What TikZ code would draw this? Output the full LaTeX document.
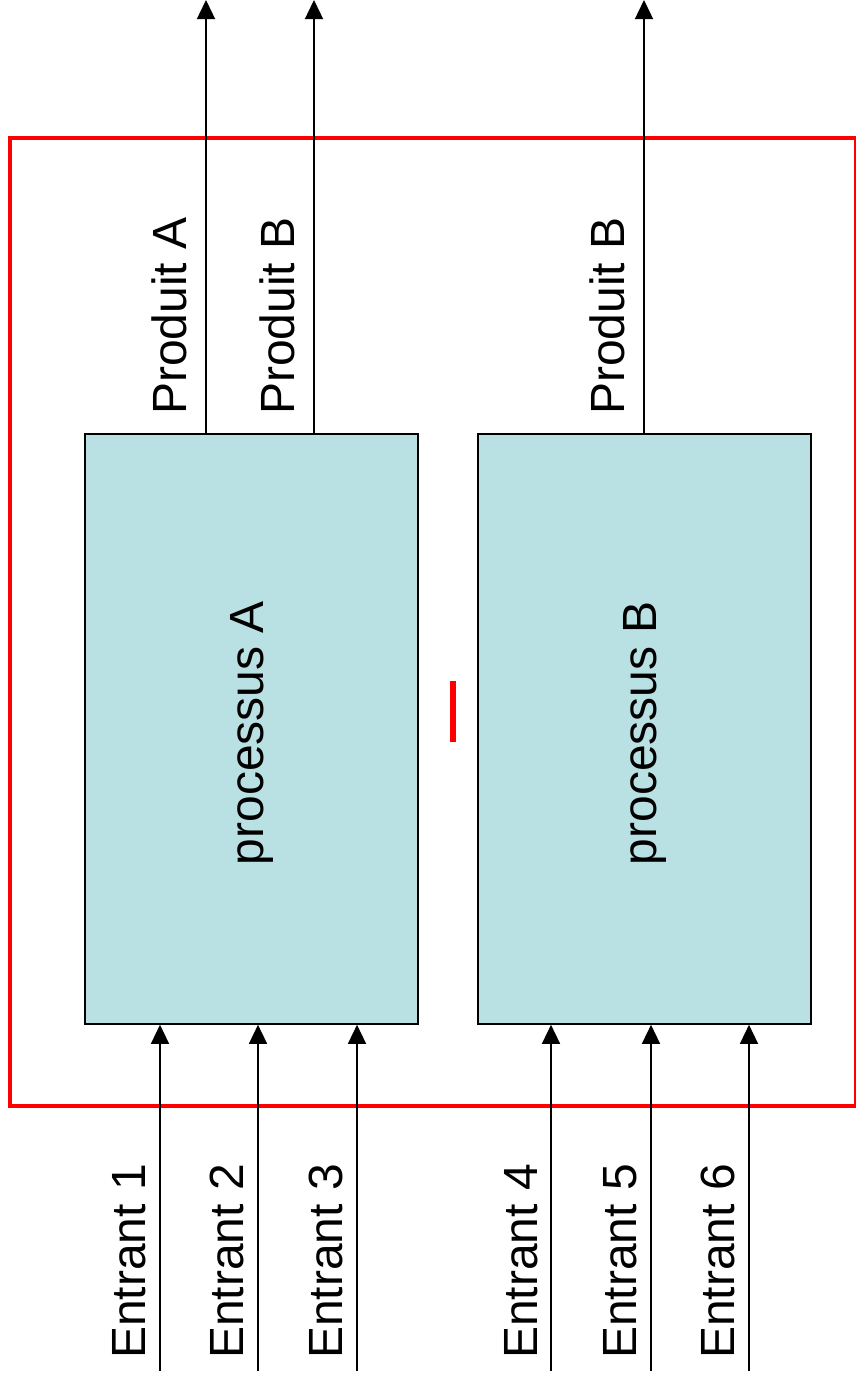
\documentclass[tikz,border=0pt]{standalone}
\usepackage{fontspec}
\setmainfont{Liberation Sans}
\usetikzlibrary{arrows.meta}
\definecolor{procfill}{RGB}{185,224,226}
\definecolor{frame}{RGB}{255,0,0}
\begin{document}
\begin{tikzpicture}[x=1pt,y=-1pt,
  every node/.style={font=\fontsize{48}{58}\selectfont},
  procbox/.style={draw=black,line width=1.6pt,fill=procfill,minimum width=333pt,minimum height=590pt,inner sep=0pt},
  arr/.style={draw=black,line width=1.4pt,-{Triangle[length=19pt,width=18pt]}},
  lbl/.style={rotate=90,anchor=base west,inner sep=0pt}]
\useasboundingbox (0,0) rectangle (855,1384);
% outer red frame
\draw[frame,line width=3.2pt] (10,138) rectangle (855.5,1106);
% red bar
\fill[frame] (450,681) rectangle (456,742);
% process boxes
\node[procbox] (boxA) at (251.5,729) {};
\node[procbox] (boxB) at (644.5,729) {};
\node[rotate=90] (txtA) at (251.5,733) {processus A};
\node[rotate=90] (txtB) at (644.5,733) {processus B};
% output arrows
\coordinate (outA) at (206,0);
\coordinate (outB1) at (314,0);
\coordinate (outB2) at (644,0);
\draw[arr] (outA |- boxA.north) -- (outA);
\draw[arr] (outB1 |- boxA.north) -- (outB1);
\draw[arr] (outB2 |- boxB.north) -- (outB2);
\node[lbl] (lpa) at (186,415) {Produit A};
\node[lbl] (lpb1) at (294,415) {Produit B};
\node[lbl] (lpb2) at (624,415) {Produit B};
% input arrows
\coordinate (in1) at (160,1371);
\coordinate (in2) at (258,1371);
\coordinate (in3) at (357,1371);
\coordinate (in4) at (551,1371);
\coordinate (in5) at (651,1371);
\coordinate (in6) at (749,1371);
\draw[arr] (in1) -- (in1 |- boxA.south);
\draw[arr] (in2) -- (in2 |- boxA.south);
\draw[arr] (in3) -- (in3 |- boxA.south);
\draw[arr] (in4) -- (in4 |- boxB.south);
\draw[arr] (in5) -- (in5 |- boxB.south);
\draw[arr] (in6) -- (in6 |- boxB.south);
\node[lbl] (le1) at (145,1359) {Entrant 1};
\node[lbl] (le2) at (243,1359) {Entrant 2};
\node[lbl] (le3) at (342,1359) {Entrant 3};
\node[lbl] (le4) at (537,1359) {Entrant 4};
\node[lbl] (le5) at (636,1359) {Entrant 5};
\node[lbl] (le6) at (734,1359) {Entrant 6};
\end{tikzpicture}
\end{document}
